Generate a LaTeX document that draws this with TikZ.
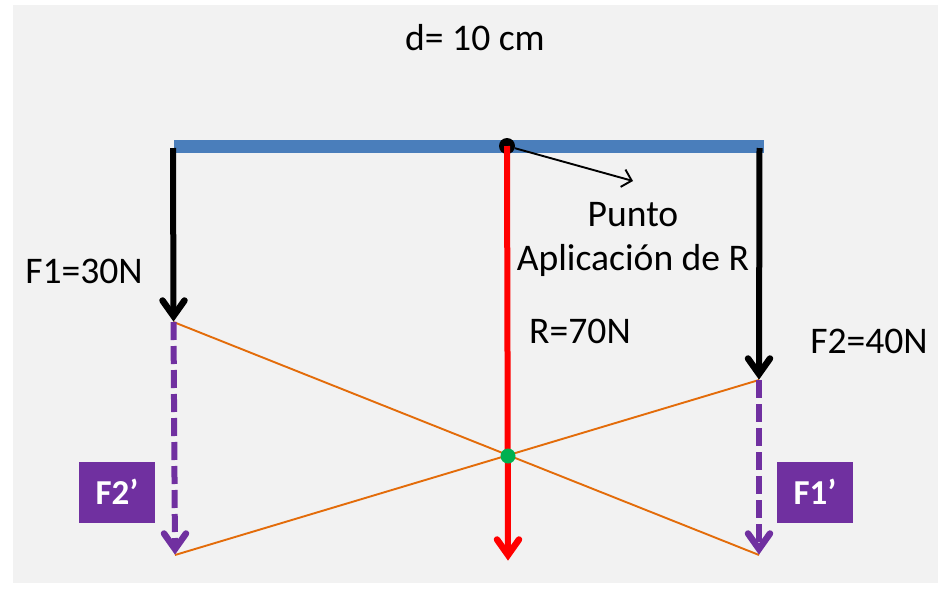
\documentclass[tikz,border=0pt]{standalone}
\usepackage{fontspec}
\setmainfont{Carlito}
\usetikzlibrary{arrows.meta}
\definecolor{bg}{HTML}{F2F2F2}
\definecolor{beam}{HTML}{4A7EBB}
\definecolor{vio}{HTML}{7030A0}
\definecolor{org}{HTML}{E36C0A}
\definecolor{grn}{HTML}{00B050}
\tikzset{
  force/.style={line width=6pt,shorten >=6pt},
  headstroke/.style={line width=6.5pt,line cap=round,line join=miter,miter limit=10},
  thinline/.style={org,line width=1.9pt},
  lab/.style={font=\fontsize{37.6}{44}\selectfont,text=black,inner sep=0pt,align=center},
  tag/.style={fill=vio,text=white,font=\bfseries\fontsize{35}{40}\selectfont,minimum width=76pt,minimum height=61pt,inner sep=0pt},
  dot/.style={circle,inner sep=0pt,minimum size=16pt}
}
\newcommand{\barbat}[2]{\draw[headstroke,#2] ([shift={(-11,-21.5)}]#1) -- ([shift={(0,-6)}]#1) -- ([shift={(11,-21.5)}]#1);}
\begin{document}
\begin{tikzpicture}[x=1pt,y=-1pt]
\useasboundingbox (0,0) rectangle (951,600);
\fill[bg] (13,5) rectangle (938,583);
\coordinate (bl) at (174,146);
\coordinate (br) at (764,146);
\coordinate (f1s) at (173,148);
\coordinate (f1e) at (173.5,322);
\coordinate (f2s) at (759.5,148);
\coordinate (f2e) at (759,380);
\coordinate (f2p) at (175,555);
\coordinate (f1p) at (759,555);
\coordinate (rb) at (508,561);
\coordinate (ptip) at (633,181);
\draw[beam,line width=13pt] (bl) -- (br);
\draw[thinline] (f1e) -- (f1p);
\draw[thinline] (f2p) -- (f2e);
\draw[force,vio,dash pattern=on 18pt off 6pt] (f1e) -- (f2p);
\draw[force,vio,dash pattern=on 18pt off 6pt] (f2e) -- (f1p);
\barbat{f2p}{vio}
\barbat{f1p}{vio}
\draw[force,black] (f1s) -- (f1e);
\draw[force,black] (f2s) -- (f2e);
\barbat{f1e}{black}
\barbat{f2e}{black}
\node[dot,fill=black] (pa) at (507,146) {};
\draw[force,red] (pa.center) -- (rb);
\barbat{rb}{red}
\node[dot,fill=grn,minimum size=15pt] (cross) at (508,456) {};
\draw[black,line width=1.9pt,-{Straight Barb[length=9pt,width=18pt]}] (pa) -- (ptip);
\node[lab] (d) at (475,38) {d= 10 cm};
\node[lab] (punto) at (633,239) {Punto\\Aplicación de R};
\node[lab] (f1) at (84,271) {F1=30N};
\node[lab] (r) at (580,331) {R=70N};
\node[lab] (f2) at (869,341) {F2=40N};
\node[tag] (t2) at (117,492) {F2’};
\node[tag] (t1) at (815,492) {F1’};
\end{tikzpicture}
\end{document}
